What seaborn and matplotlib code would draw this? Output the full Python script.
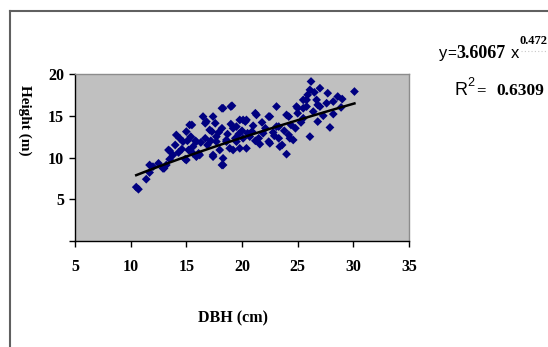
import numpy as np
import pandas as pd
import seaborn as sns
import matplotlib
matplotlib.use('Agg')
from matplotlib import pyplot as plt
from matplotlib.lines import Line2D

# DBH (cm) and tree height (m)
dbh = [10.5, 10.7, 11.4, 11.7, 12.0, 11.7, 13.0, 13.2, 13.5, 13.5,
       14.1, 14.4, 14.7, 15.0, 15.3, 14.9, 15.2, 15.6, 15.9, 16.1,
       16.5, 16.8, 17.4, 17.3, 17.7, 17.4, 18.3, 18.3, 19.1, 18.0,
       18.6, 19.2, 19.5, 19.4, 14.0, 14.6, 15.4, 15.8, 14.3, 13.8,
       15.1, 16.3, 12.5, 13.4, 12.9, 15.0, 18.2, 19.0, 16.7, 17.6,
       19.8, 20.3, 19.2, 18.2, 17.1, 15.5, 15.9, 16.7, 17.7, 18.6,
       19.5, 20.1, 18.9, 19.8, 16.2, 17.4, 18.3, 18.2, 15.6, 23.1,
       21.3, 22.4, 24.2, 25.0, 25.5, 20.4, 20.9, 22.1, 23.3, 24.4,
       21.5, 22.4, 23.3, 24.2, 23.6, 24.6, 20.4, 24.0, 21.2, 20.1,
       24.0, 22.5, 24.3, 23.4, 22.5, 21.9, 20.7, 23.1, 24.9, 25.0,
       26.2, 26.1, 27.0, 27.7, 28.6, 30.1, 25.8, 26.7, 27.6, 28.2,
       25.5, 27.0, 28.2, 26.8, 27.9, 26.1, 25.5, 25.8, 26.8, 21.0,
       21.8, 22.8, 23.8, 20.5, 21.6, 22.9, 24.8, 25.3, 26.4, 27.3,
       25.9, 26.5, 28.9, 29.0, 20.0, 19.7, 21.2, 18.7, 17.9, 16.9,
       17.2, 19.0]
height = [6.45, 6.2, 7.4, 8.2, 8.9, 9.1, 8.7, 9.1, 10.8, 9.8,
          12.7, 12.3, 11.9, 13.1, 13.9, 9.8, 10.9, 11.3, 10.1, 10.5,
          14.9, 14.3, 14.9, 13.1, 12.5, 10.3, 9.1, 15.9, 16.2, 10.9,
          11.9, 10.9, 13.7, 12.3, 11.5, 11.0, 12.5, 12.0, 10.6, 10.3,
          12.0, 11.8, 9.3, 10.9, 8.7, 9.7, 15.9, 16.1, 14.1, 14.1,
          14.5, 14.3, 13.5, 13.5, 13.3, 13.9, 11.9, 12.3, 11.9, 12.1,
          11.9, 12.3, 11.1, 11.1, 10.3, 10.1, 9.9, 9.1, 10.5, 16.1,
          15.1, 14.9, 14.9, 15.9, 16.9, 14.5, 13.1, 13.5, 13.7, 13.9,
          12.3, 11.9, 12.3, 12.7, 11.5, 12.1, 11.1, 10.4, 15.3, 14.5,
          15.1, 14.9, 12.3, 11.3, 11.7, 12.9, 12.5, 13.7, 16.1, 15.3,
          19.1, 18.1, 18.3, 17.7, 17.3, 17.9, 16.9, 16.9, 16.5, 16.7,
          15.9, 16.1, 15.2, 14.3, 13.6, 12.5, 14.7, 16.1, 16.3, 13.8,
          14.2, 13.0, 13.2, 12.9, 11.6, 12.6, 13.5, 14.2, 15.5, 15.0,
          17.5, 17.8, 16.0, 17.0, 13.2, 12.8, 12.0, 12.8, 13.0, 11.5,
          12.0, 14.0]

x_ticks = [5, 10, 15, 20, 25, 30, 35]
y_ticks = [0, 5, 10, 15, 20]
y_tick_labels = ['', '5', '10', '15', '20']

# power trendline as drawn in the picture (y = a * x^b)
trend_a = 1.52
trend_b = 0.70

df = pd.DataFrame({'dbh': dbh, 'height': height})
xs = np.linspace(df.dbh.min(), df.dbh.max(), 60)
trend = pd.DataFrame({'dbh': xs, 'height': trend_a * xs ** trend_b})

W, H = 548, 347
fig = plt.figure(figsize=(W / 100, H / 100), dpi=100)
ax = fig.add_axes([75 / W, 1 - 241 / H, 334 / W, 167 / H])
ax.set_facecolor('#c0c0c0')

sns.scatterplot(x='dbh', y='height', data=df, marker='D', s=20, color='#000080',
                edgecolor='none', ax=ax, zorder=3)
sns.lineplot(x='dbh', y='height', data=trend, color='black', lw=1.8, ax=ax, zorder=4)

ax.set_xlim(5, 35)
ax.set_ylim(0, 20)
ax.set_xticks(x_ticks)
ax.set_yticks(y_ticks)
ax.set_yticklabels(y_tick_labels)
ax.set_xlabel('')
ax.set_ylabel('')

serif = 'Liberation Serif'
sans = 'Liberation Sans'
for lab in ax.get_xticklabels() + ax.get_yticklabels():
    lab.set_family(serif)
    lab.set_weight('bold')
    lab.set_fontsize(11.5)
ax.tick_params(axis='x', direction='out', length=4, width=1, pad=9)
ax.tick_params(axis='y', direction='out', length=4, width=1, pad=4)
for s in ['left', 'bottom']:
    ax.spines[s].set_color('black')
    ax.spines[s].set_linewidth(1)
for s in ['top', 'right']:
    ax.spines[s].set_color('#8c8c8c')
    ax.spines[s].set_linewidth(1)

def px(x, y):
    return x / W, 1 - y / H

fig.text(*px(233, 318), 'DBH (cm)', family=serif, weight='bold', fontsize=11.5,
         ha='center', va='center')
fig.text(*px(25, 120), 'Height (m)', family=serif, weight='bold', fontsize=11,
         rotation=-90, ha='center', va='center')

# trendline equation
fig.text(*px(439, 58), 'y', family=sans, fontsize=12, va='baseline')
fig.text(*px(447, 58), '=', family=sans, fontsize=11, va='baseline')
fig.text(*px(456, 58), '3.6067', family=serif, weight='bold', fontsize=13, va='baseline')
fig.text(*px(511, 58), 'x', family=sans, fontsize=12, va='baseline')
fig.text(*px(520, 44), '0.472', family=serif, weight='bold', fontsize=9, va='baseline')
fig.add_artist(Line2D([521 / W, 548 / W], [1 - 51 / H] * 2, color='#c8c8c8',
                      lw=0.8, ls=(0, (1, 2))))
fig.text(*px(455, 95), 'R', family=sans, fontsize=13, va='baseline')
fig.text(*px(467, 86), '2', family=sans, fontsize=9, va='baseline')
fig.text(*px(476, 95), '=', family=serif, weight='bold', fontsize=12, va='baseline')
fig.text(*px(496, 95), '0.6309', family=serif, weight='bold', fontsize=12.5, va='baseline')

# outer chart frame (only left and top edges show)
fig.add_artist(Line2D([9.5 / W, 9.5 / W], [0, 1 - 10.5 / H], color='#606060', lw=1.5))
fig.add_artist(Line2D([9.5 / W, 1], [1 - 10.5 / H] * 2, color='#606060', lw=1.5))

fig.savefig('out.png', dpi=100)
